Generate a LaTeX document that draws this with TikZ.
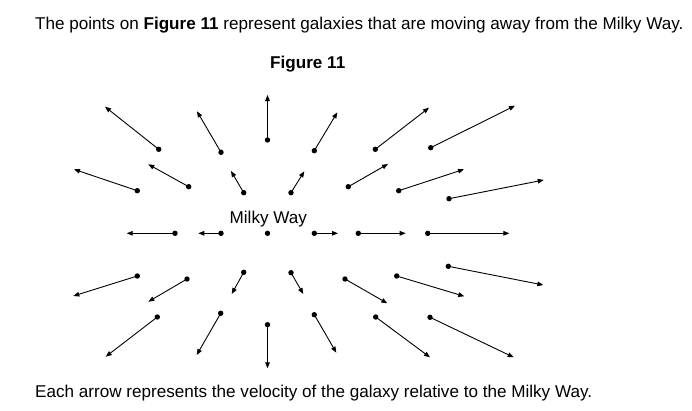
\documentclass[tikz,border=0pt]{standalone}
\usepackage{fontspec}
\setmainfont{Liberation Sans}
\usetikzlibrary{arrows.meta}
\begin{document}
\begin{tikzpicture}[x=1pt,y=-1pt,
  gal/.style={circle,fill=black,inner sep=0pt,minimum size=5.4pt},
  vel/.style={line width=0.9pt,-{Triangle[length=6pt,width=4.6pt]}},
  txt/.style={anchor=base west,inner sep=0pt,font=\fontsize{17.1}{20}\selectfont}]
\useasboundingbox (0,0) rectangle (692,410);
\node[txt] (title) at (35,29.3) {The points on \textbf{Figure 11} represent galaxies that are moving away from the Milky Way.};
\node[txt] (fig) at (270,68.3) {\textbf{Figure 11}};
\node[txt] (caption) at (35,397.3) {Each arrow represents the velocity of the galaxy relative to the Milky Way.};
\node[txt] (mw) at (229.5,223.3) {Milky Way};
\node[gal] (c) at (267.5,233.3) {};
\foreach \i/\ax/\ay/\bx/\by in {
 1/158.7/149.3/105/106.7,
 2/221/152.3/197/111.3,
 3/267.5/140/267.5/95,
 4/314.3/150.7/337.3/112.3,
 5/375.3/149.3/429/107.7,
 6/430.7/147.7/515/105.7,
 7/137.3/190.7/74/169.3,
 8/188.7/186.7/148.3/164.3,
 9/243.7/192.7/231/171,
 10/291/192.7/304.3/171.3,
 11/348.3/186.7/388/164,
 12/398.7/190.7/464/169.3,
 13/449/198.7/543.7/180,
 14/175/233.3/126.7/233.3,
 15/221/233.3/198.3/233.3,
 17/314.3/233.3/338/233.3,
 18/358.3/233.3/405.7/233.3,
 19/427.7/233.3/509.3/233.3,
 20/137.3/276/73.3/296,
 21/187/279/148.3/301.7,
 22/243.7/272.3/231.7/294,
 23/291/272.7/303.3/294,
 24/345/279/387.3/303.3,
 25/396.7/276/464.3/296.3,
 26/448.3/266.3/543.3/285,
 27/157.3/317/105.7/356.7,
 28/220.7/313.3/196.7/355,
 29/267.5/324.7/267.5/368.3,
 30/314.3/314.7/336.3/352.7,
 31/375.7/317/430/357.3,
 32/430/317.3/513.7/357.3}{
  \node[gal] (g\i) at (\ax,\ay) {};
  \coordinate (t\i) at (\bx,\by);
  \draw[vel] (g\i.center) -- (t\i);
}
\end{tikzpicture}
\end{document}
